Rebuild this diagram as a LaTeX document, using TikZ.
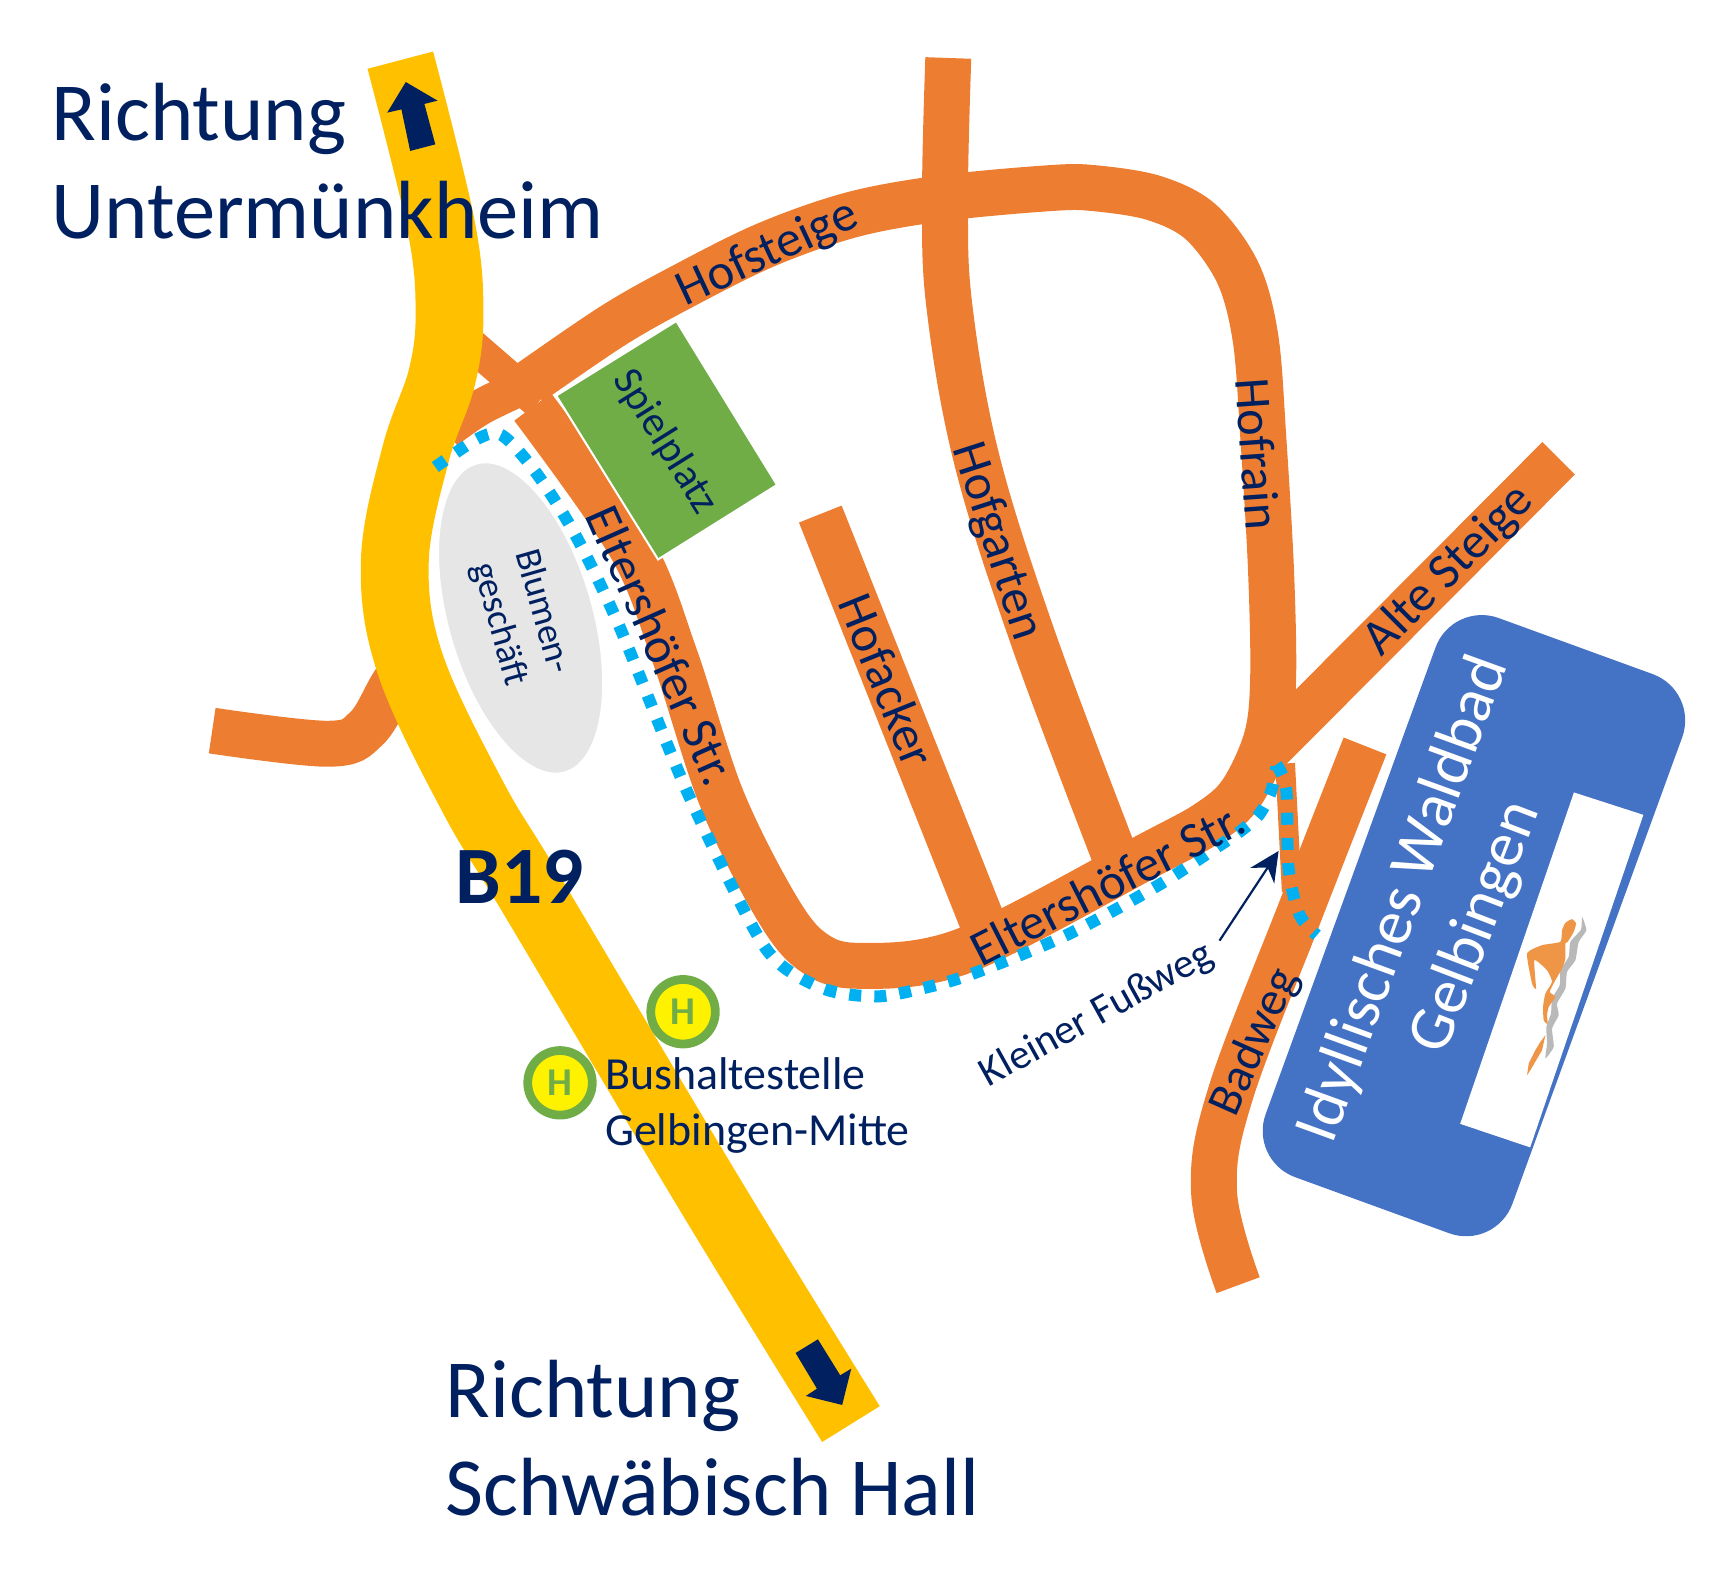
\documentclass[tikz,border=0pt]{standalone}
\usepackage{fontspec}
\setmainfont{Carlito}
\usetikzlibrary{arrows.meta,shapes.geometric}
\definecolor{roadorange}{RGB}{237,125,49}
\definecolor{roadyellow}{RGB}{255,192,0}
\definecolor{navy}{RGB}{0,32,96}
\definecolor{pathblue}{RGB}{0,176,240}
\definecolor{poolblue}{RGB}{68,114,196}
\definecolor{parkgreen}{RGB}{112,173,71}
\definecolor{shopgrey}{RGB}{230,230,230}
\definecolor{swimorange}{RGB}{238,150,70}
\definecolor{swimgrey}{RGB}{185,185,185}
\tikzset{
  road/.style={draw=roadorange,line width=42pt},
  highway/.style={draw=roadyellow,line width=62pt},
  footway/.style={draw=pathblue,line width=11pt,dash pattern=on 11pt off 12pt},
  bigtext/.style={text=navy,align=left,font=\fontsize{75.5}{90}\selectfont,inner sep=0pt},
  streettext/.style={text=navy,font=\fontsize{46}{56}\selectfont,inner sep=0pt},
  smalltext/.style={text=navy,align=left,font=\fontsize{38}{46}\selectfont,inner sep=0pt},
  stoptext/.style={text=navy,align=left,font=\fontsize{42}{50.7}\selectfont,inner sep=0pt},
  bathtext/.style={text=white,font=\fontsize{58.5}{70}\selectfont,inner sep=0pt},
  stopsign/.style={circle,draw=parkgreen,fill=yellow,line width=8pt,minimum size=59pt,inner sep=0pt,
    text=parkgreen,font=\fontsize{36}{36}\selectfont\bfseries},
}
\begin{document}
\begin{tikzpicture}[x=1pt,y=-1pt]
\useasboundingbox (0,0) rectangle (1568,1449);
% roads
\draw[road,line width=30pt] (425,310) -- (492,368);
\draw[road,line width=33pt] plot[smooth,tension=.6] coordinates {(408,394) (440,372) (482,352)};
\draw[road,line join=round] plot[smooth,tension=.55] coordinates {(484,350) (560,298) (620,264) (700,224) (780,196) (863,181) (960,172) (1000,172) (1055,181) (1098,203) (1132,250) (1148,310) (1155,400) (1162,520) (1164,620) (1158,675) (1135,725) (1105,752) (1052,781) (882,869) (784,883) (740,868) (706,823) (659,728) (617,600) (577,500) (487,372)};
\draw[road] plot[smooth,tension=.6] coordinates {(867,53) (864,180) (868,280) (893,420) (945,585) (1022,790)};
\draw[road] (750,470) -- (905,860);
\draw[road] (1425,419) -- (1160,685);
\draw[road,line width=18pt] (1175,698) -- (1181,815);
\draw[road] plot[smooth,tension=.6] coordinates {(1248,682) (1190,830) (1125,1000) (1110,1090) (1132,1175)};
\draw[road] plot[smooth,tension=.6] coordinates {(194,668) (300,680) (335,666) (360,625) (385,590)};
% green and shop
\draw[white,line width=4pt,fill=parkgreen] (618,295) -- (709,443) -- (602,510) -- (510,362) -- cycle;
\fill[parkgreen] (618,295) -- (709,443) -- (602,510) -- (510,362) -- cycle;
\node[ellipse,fill=shopgrey,draw=white,line width=8pt,minimum width=300pt,minimum height=139pt,inner sep=0pt,rotate=-74,
  text=navy,align=center,font=\fontsize{34}{41}\selectfont] (shop) at (476,565) {Blumen-\\geschäft};
% B19
\draw[highway] plot[smooth,tension=.6] coordinates {(366,55) (403,205) (411,285) (404,345) (380,415) (361,513) (375,607) (432,728) (489,823) (652,1097) (778,1302)};
\fill[navy] (371,75) -- (354,103) -- (367,100) -- (375,138) -- (398,132) -- (388,95) -- (400,92) -- cycle;
\fill[navy] (747.8,1224.5) -- (727.4,1237) -- (746.9,1269.6) -- (736.8,1276.3) -- (770,1284.5) -- (778.3,1251.3) -- (768.2,1257.4) -- cycle;
% footpath
\draw[footway] plot[smooth,tension=.5] coordinates {(398,427) (437,401) (459,398) (490,432) (526,489) (566,572) (627,721) (688,847) (715,883) (756,905) (802,911) (846,903) (890,890) (975,855) (1058,810) (1115,773) (1134,760) (1151,745) (1162,724) (1167,701)};
\draw[footway] plot[smooth,tension=.5] coordinates {(1167,699) (1176,722) (1178,793) (1188,836) (1204,855)};
% bath
\node[rectangle,fill=poolblue,rounded corners=45pt,minimum width=544pt,minimum height=240pt,inner sep=0pt,rotate=70] (bath) at (1347.6,846.3) {};
\fill[white] (1439,724.5) -- (1502.5,745) -- (1399,1049) -- (1335,1027.5) -- cycle;
\node[bathtext,rotate=70] (bathname) at (1284,822) {Idyllisches Waldbad};
\node[bathtext,rotate=69] (bathplace) at (1350,848) {Gelbingen};
\begin{scope}[shift={(1380.9,823)},x=.3048pt,y=-.3048pt]
\fill[swimgrey] plot[smooth cycle,tension=.3] coordinates {(215,50) (228,90) (205,125) (195,180) (170,215) (165,265) (140,310) (145,345) (125,385) (130,440) (105,475) (110,430) (108,380) (122,340) (125,295) (148,255) (150,210) (175,170) (180,125) (212,88)};
\fill[swimorange] plot[smooth cycle,tension=.3] coordinates {(185,57) (197,70) (190,95) (172,125) (165,130) (165,175) (155,205) (135,240) (118,275) (135,290) (115,320) (110,345) (112,372) (100,360) (98,320) (105,280) (125,245) (110,210) (72,180) (77,265) (65,250) (50,160) (95,135) (150,125) (155,90) (165,68)};
\fill[swimorange] (105,405) -- (95,450) -- (60,510) -- (50,525) -- (55,490) -- (75,450) -- (90,425) -- cycle;
\end{scope}
% bus stops
\node[stopsign] (stopa) at (624.5,925) {H};
\node[stopsign] (stopb) at (512,990) {H};
% labels
\node[bigtext,anchor=north west] (north) at (47,75.5) {Richtung\\Untermünkheim};
\node[bigtext,anchor=north west] (south) at (407,1243) {Richtung\\Schwäbisch Hall};
\node[text=navy,inner sep=0pt,font=\fontsize{74.5}{74.5}\selectfont\bfseries] (bnineteen) at (475,802) {B19};
\node[streettext,rotate=25] (hofsteige) at (702,232) {Hofsteige};
\node[streettext,rotate=-86] (hofrain) at (1150,415) {Hofrain};
\node[streettext,rotate=-72] (hofgarten) at (911,495) {Hofgarten};
\node[streettext,rotate=-68] (hofacker) at (811,622) {Hofacker};
\node[streettext,rotate=45] (altesteige) at (1325,522) {Alte Steige};
\node[streettext,font=\fontsize{44}{54}\selectfont,rotate=66] (badweg) at (1148,953) {Badweg};
\node[streettext,rotate=-66] (eltersa) at (605,590) {Eltershöfer Str.};
\node[streettext,rotate=27] (eltersb) at (1012,808) {Eltershöfer Str.};
\node[smalltext,rotate=-58] (spielplatz) at (608,404) {Spielplatz};
\node[smalltext,rotate=29] (fussweg) at (1003,928) {Kleiner Fußweg};
\node[stoptext,anchor=north west] (stoplabel) at (553,967) {Bushaltestelle\\Gelbingen-Mitte};
% arrow
\coordinate (wegstart) at (1115,860);
\coordinate (wegende) at (1169,778);
\draw[navy,line width=2pt,-{Stealth[length=27pt,width=26pt]}] (wegstart) -- (wegende);
\end{tikzpicture}
\end{document}
